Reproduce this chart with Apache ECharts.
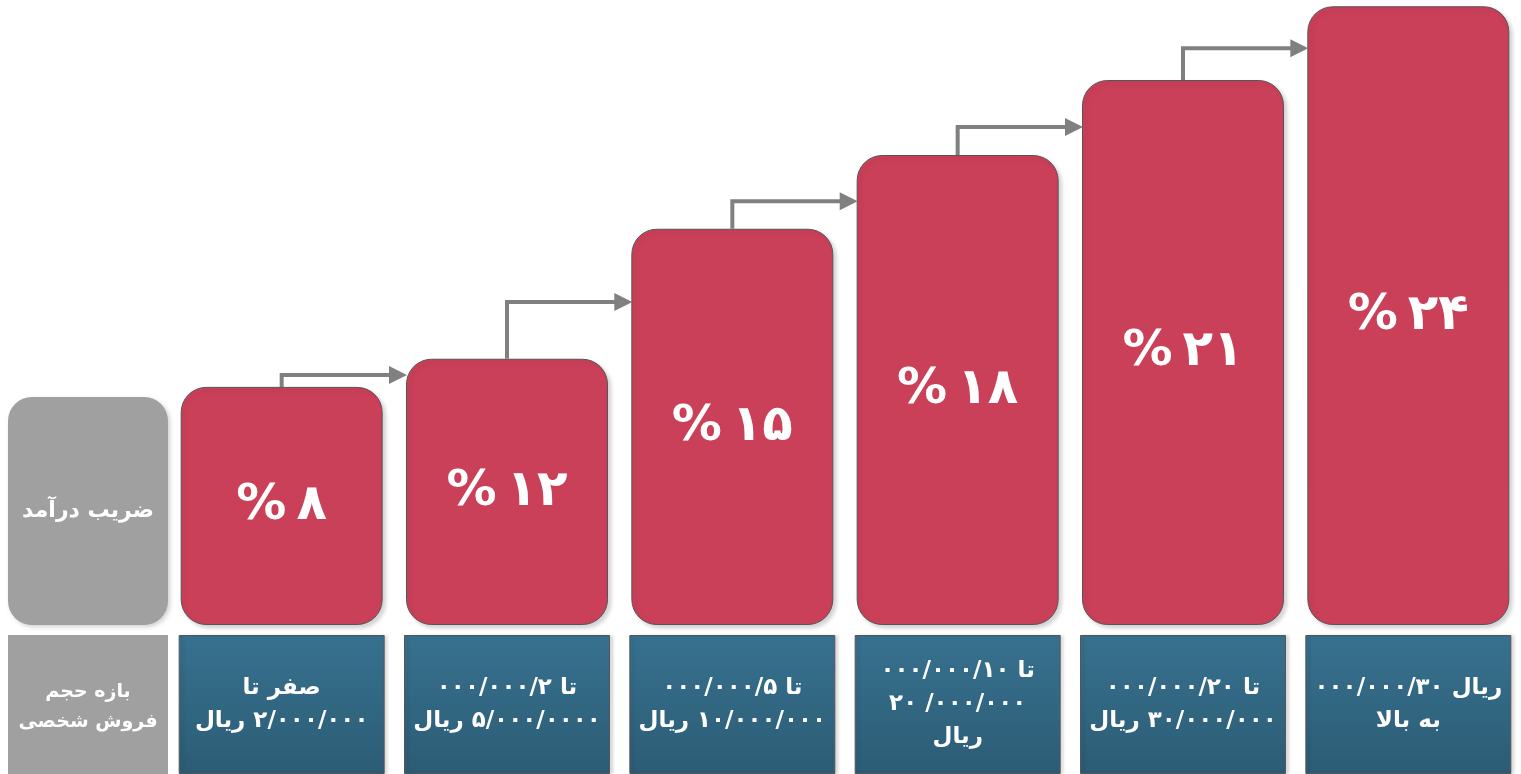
<!DOCTYPE html>
<html>
<head>
<meta charset="utf-8">
<script src="https://cdn.jsdelivr.net/npm/echarts@6/dist/echarts.min.js"></script>
<style>
  html, body { margin: 0; padding: 0; background: #fff; }
  #box { width: 1521px; height: 774px; }
</style>
</head>
<body>
<div id="box"></div>
<script>
// نرخ مالیات (درصد)
const rates = [8, 12, 15, 18, 21, 24];
// ارتفاع پله ها (خوانده شده از تصویر، مقیاس ۰ تا ۱۰۰)
const stepHeights = [38.1, 42.6, 63.4, 75.2, 87.2, 99.0];
// ارتفاع فلش ها بین پله ها
const arrowLevels = [40.0, 51.7, 67.8, 79.7, 92.3];
// بازه ها (ترتیب نوشتن برای canvas چپ به راست)
const ranges = [
  'صفر تا\nریال \u200E۲/۰۰۰/۰۰۰',
  '۰۰۰/۰۰۰/۲ تا\nریال \u200E۵/۰۰۰/۰۰۰۰',
  '۰۰۰/۰۰۰/۵ تا\nریال \u200E۱۰/۰۰۰/۰۰۰',
  '۰۰۰/۰۰۰/۱۰ تا\n۲۰ /۰۰۰/۰۰۰\nریال',
  '۰۰۰/۰۰۰/۲۰ تا\nریال \u200E۳۰/۰۰۰/۰۰۰',
  '۰۰۰/۰۰۰/۳۰ ریال\nبه بالا'
];
const rowTitles = ['ضریب درآمد', 'بازه حجم\nفروش شخصی'];

const FONT = '"DejaVu Sans", sans-serif';
const fa = n => String(n).replace(/\d/g, d => '۰۱۲۳۴۵۶۷۸۹'[d]);
const barW = 202;

let myChart = echarts.init(document.getElementById('box'));
const option = {
  animation: false,
  grid: [
    { left: 169, right: -2, top: 0, bottom: 149 },
    { left: 169, right: -2, top: 635, bottom: -1 }
  ],
  xAxis: [
    { gridIndex: 0, type: 'category', data: rates.map(String), show: false },
    { gridIndex: 1, type: 'category', data: rates.map(String), show: false }
  ],
  yAxis: [
    { gridIndex: 0, type: 'value', min: 0, max: 100, show: false },
    { gridIndex: 1, type: 'value', min: 0, max: 1, show: false }
  ],
  graphic: [
    {
      type: 'rect', x: 8, y: 397, z: 5,
      shape: { width: 160, height: 228, r: 24 },
      style: { fill: '#a0a0a0', shadowBlur: 4, shadowOffsetX: 2, shadowOffsetY: 2, shadowColor: 'rgba(0,0,0,0.18)' }
    },
    {
      type: 'text', x: 88, y: 511, z: 6,
      style: {
        text: rowTitles[0], fill: '#fff', font: 'bold 22px ' + FONT,
        align: 'center', verticalAlign: 'middle', textAlign: 'center', textVerticalAlign: 'middle'
      }
    },
    {
      type: 'rect', x: 8, y: 635, z: 5,
      shape: { width: 160, height: 140 },
      style: { fill: '#a0a0a0' }
    },
    {
      type: 'text', x: 88, y: 707, z: 6,
      style: {
        text: rowTitles[1], fill: '#fff', font: 'bold 19px ' + FONT, lineHeight: 30,
        align: 'center', verticalAlign: 'middle', textAlign: 'center', textVerticalAlign: 'middle'
      }
    }
  ],
  series: [
    {
      type: 'bar',
      xAxisIndex: 0, yAxisIndex: 0,
      data: stepHeights,
      barWidth: barW,
      itemStyle: {
        color: '#cb4059',
        borderColor: '#555',
        borderWidth: 1,
        borderRadius: 25,
        shadowBlur: 4,
        shadowOffsetX: 3,
        shadowOffsetY: 3,
        shadowColor: 'rgba(0,0,0,0.18)'
      },
      label: {
        show: true,
        position: 'inside',
        color: '#fff',
        fontSize: 50,
        fontWeight: 'bold',
        fontFamily: FONT,
        formatter: p => '%\u2009' + fa(rates[p.dataIndex])
      },
      z: 2
    },
    {
      type: 'custom',
      xAxisIndex: 0, yAxisIndex: 0,
      data: arrowLevels.map((v, i) => [i, v, stepHeights[i]]),
      renderItem: (params, api) => {
        const i = api.value(0);
        const start = api.coord([i, api.value(2)]);
        const y = api.coord([i, api.value(1)])[1];
        const tipX = api.coord([i + 1, 0])[0] - barW / 2 + 1;
        return {
          type: 'group',
          children: [
            {
              type: 'polyline',
              shape: { points: [[start[0], start[1]], [start[0], y], [tipX - 14, y]] },
              style: { stroke: '#808080', lineWidth: 4, fill: null }
            },
            {
              type: 'polygon',
              shape: { points: [[tipX, y], [tipX - 18, y - 9], [tipX - 18, y + 9]] },
              style: { fill: '#808080' }
            }
          ]
        };
      },
      z: 3
    },
    {
      type: 'bar',
      xAxisIndex: 1, yAxisIndex: 1,
      data: ranges.map(() => 1),
      barWidth: 206,
      itemStyle: {
        color: new echarts.graphic.LinearGradient(0, 0, 0, 1, [
          { offset: 0, color: '#37718f' },
          { offset: 1, color: '#2c5c75' }
        ]),
        borderColor: '#555',
        borderWidth: 1,
        shadowBlur: 3,
        shadowOffsetX: 3,
        shadowOffsetY: 0,
        shadowColor: 'rgba(0,0,0,0.15)'
      },
      label: {
        show: true,
        position: 'inside',
        color: '#fff',
        fontSize: 23,
        fontWeight: 'bold',
        fontFamily: FONT,
        lineHeight: 33,
        align: 'center',
        formatter: p => ranges[p.dataIndex]
      }
    }
  ]
};
myChart.setOption(option);
window.onresize = function () {
  myChart.resize();
};
</script>
</body>
</html>
